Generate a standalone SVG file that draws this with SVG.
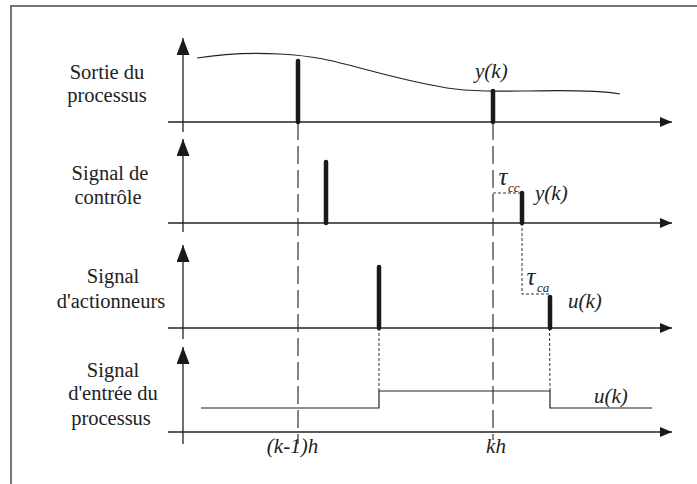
<svg xmlns="http://www.w3.org/2000/svg" width="697" height="484" viewBox="0 0 697 484">
<defs>
<marker id="ar" viewBox="0 0 12 10" refX="12" refY="5" markerWidth="12" markerHeight="10" markerUnits="userSpaceOnUse" orient="auto">
<path d="M0,0 L12,5 L0,10 Z" fill="#1a1a1a"/>
</marker>
<marker id="au" viewBox="0 0 17 13" refX="17" refY="6.5" markerWidth="17" markerHeight="13" markerUnits="userSpaceOnUse" orient="auto">
<path d="M0,0 L17,6.5 L0,13 Z" fill="#1a1a1a"/>
</marker>
</defs>
<style>
.ax{stroke:#222;stroke-width:1.3;fill:none}
.bar{stroke:#1a1a1a;stroke-width:4.5;stroke-linecap:round;fill:none}
.dash{stroke:#333;stroke-width:1.2;stroke-dasharray:18 6;fill:none}
.dot{stroke:#333;stroke-width:1;stroke-dasharray:3 2;fill:none}
.sig{stroke:#222;stroke-width:1.2;fill:none}
</style>
<rect width="697" height="484" fill="#fff"/>
<path d="M11,484 L11,6 L697,6" stroke="#777" stroke-width="2" fill="none"/>

<g id="connectors">
<line class="ax" x1="183" y1="132" x2="183" y2="38" marker-end="url(#au)"/>
<line class="ax" x1="168" y1="122" x2="672" y2="122" marker-end="url(#ar)"/>
<line class="ax" x1="183" y1="232" x2="183" y2="139" marker-end="url(#au)"/>
<line class="ax" x1="168" y1="223" x2="672" y2="223" marker-end="url(#ar)"/>
<line class="ax" x1="183" y1="339" x2="183" y2="245" marker-end="url(#au)"/>
<line class="ax" x1="168" y1="328" x2="672" y2="328" marker-end="url(#ar)"/>
<line class="ax" x1="183" y1="444" x2="183" y2="347" marker-end="url(#au)"/>
<line class="ax" x1="168" y1="432" x2="672" y2="432" marker-end="url(#ar)"/>
<line class="dash" x1="298" y1="122" x2="298" y2="444"/>
<line class="dash" x1="493" y1="122" x2="493" y2="440"/>
<polyline class="dot" points="493,193 522,193"/>
<polyline class="dot" points="522,223 522,294 550,294"/>
<line class="dot" x1="379" y1="328" x2="379" y2="391"/>
<line class="dot" x1="549.5" y1="328" x2="550" y2="391"/>
</g>

<g id="panel1">
<text x="107" y="79" font-family="Liberation Serif" font-size="20.5" fill="#222" text-anchor="middle">Sortie du</text>
<text x="107" y="102" font-family="Liberation Serif" font-size="20.5" fill="#222" text-anchor="middle">processus</text>
<path class="sig" d="M197,58 C215,55 245,52 280,54 S330,60 360,68 S430,86 455,89 S490,91 520,91 S590,89 620,94" stroke-width="1"/>
<line class="bar" x1="298" y1="61" x2="298" y2="122"/>
<line class="bar" x1="493" y1="91" x2="493" y2="122"/>
<text x="475" y="78" font-family="Liberation Serif" font-size="21" font-style="italic" fill="#222">y(k)</text>
</g>

<g id="panel2">
<text x="110" y="180" font-family="Liberation Serif" font-size="20.5" fill="#222" text-anchor="middle">Signal de</text>
<text x="108" y="204" font-family="Liberation Serif" font-size="20.5" fill="#222" text-anchor="middle">contrôle</text>
<line class="bar" x1="326" y1="162" x2="326" y2="223"/>
<line class="bar" x1="522" y1="193" x2="522" y2="223"/>
<text x="498.5" y="185" font-family="Liberation Serif" font-size="25" font-style="italic" fill="#222">τ</text>
<text x="508" y="192" font-family="Liberation Serif" font-size="13" font-style="italic" fill="#222">cc</text>
<text x="535" y="200" font-family="Liberation Serif" font-size="21" font-style="italic" fill="#222">y(k)</text>
</g>

<g id="panel3">
<text x="113" y="283" font-family="Liberation Serif" font-size="20.5" fill="#222" text-anchor="middle">Signal</text>
<text x="111" y="308" font-family="Liberation Serif" font-size="20.5" fill="#222" text-anchor="middle">d'actionneurs</text>
<line class="bar" x1="379" y1="267" x2="379" y2="328"/>
<line class="bar" x1="550" y1="297" x2="550" y2="328"/>
<text x="526.5" y="285" font-family="Liberation Serif" font-size="25" font-style="italic" fill="#222">τ</text>
<text x="537" y="292" font-family="Liberation Serif" font-size="13" font-style="italic" fill="#222">ca</text>
<text x="568" y="308" font-family="Liberation Serif" font-size="21" font-style="italic" fill="#222">u(k)</text>
</g>

<g id="panel4">
<text x="113" y="377" font-family="Liberation Serif" font-size="20.5" fill="#222" text-anchor="middle">Signal</text>
<text x="113" y="400" font-family="Liberation Serif" font-size="20.5" fill="#222" text-anchor="middle">d'entrée du</text>
<text x="111" y="425" font-family="Liberation Serif" font-size="20.5" fill="#222" text-anchor="middle">processus</text>
<polyline class="sig" points="201,408 379,408 379,391 550,391 550,408 652,408"/>
<text x="594" y="403" font-family="Liberation Serif" font-size="21" font-style="italic" fill="#222">u(k)</text>
</g>

<g id="timelabels">
<text x="292.5" y="453" font-family="Liberation Serif" font-size="21" font-style="italic" fill="#222" text-anchor="middle">(k-1)h</text>
<text x="496" y="453" font-family="Liberation Serif" font-size="21" font-style="italic" fill="#222" text-anchor="middle">kh</text>
</g>
</svg>
